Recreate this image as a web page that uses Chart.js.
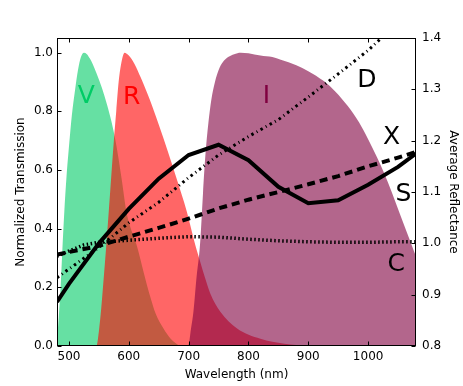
<!DOCTYPE html>
<html>
<head>
<meta charset="utf-8">
<script src="https://cdn.jsdelivr.net/npm/chart.js@4/dist/chart.umd.min.js"></script>
<style>
  html, body { margin: 0; padding: 0; background: #fff; }
  #c { display: block; }
</style>
</head>
<body>
<canvas id="c" width="463" height="386"></canvas>
<script>
// ---- Data ----
// Filter transmission curves (left axis, normalized)
const vWave  = [480, 483, 486, 489, 492, 496, 500, 505, 510, 515, 520, 525, 530, 535, 540, 546, 555, 564, 571, 579, 588, 596, 605, 613, 625, 635, 645, 658, 670, 685];
const vTrans = [0.02, 0.10, 0.20, 0.33, 0.45, 0.58, 0.68, 0.79, 0.87, 0.94, 0.985, 1.0, 0.995, 0.98, 0.96, 0.93, 0.88, 0.82, 0.765, 0.686, 0.57, 0.458, 0.39, 0.345, 0.25, 0.174, 0.11, 0.06, 0.025, 0.0];

const rWave  = [540, 546, 550, 554, 558, 563, 569, 575, 579, 583, 587, 593, 600, 610, 620, 635, 650, 665, 680, 697, 711, 719, 727, 736, 753, 781, 820, 860, 900];
const rTrans = [0.0, 0.0, 0.05, 0.13, 0.23, 0.36, 0.53, 0.70, 0.80, 0.90, 0.96, 1.0, 0.99, 0.96, 0.915, 0.84, 0.755, 0.665, 0.57, 0.458, 0.345, 0.29, 0.235, 0.18, 0.117, 0.06, 0.025, 0.008, 0.0];

const iWave  = [694, 699, 704, 708, 713, 719, 724, 728, 733, 738, 744, 750, 757, 766, 776, 787, 800, 820, 840, 854, 880, 900, 926, 945, 966, 985, 1000, 1015, 1027, 1040, 1055, 1068, 1080];
const iTrans = [0.0, 0.0, 0.06, 0.117, 0.23, 0.345, 0.52, 0.65, 0.76, 0.84, 0.90, 0.94, 0.967, 0.985, 0.995, 1.0, 0.998, 0.99, 0.985, 0.976, 0.957, 0.937, 0.903, 0.868, 0.818, 0.762, 0.705, 0.643, 0.588, 0.522, 0.44, 0.37, 0.305];

// Reflectance curves (right axis)
const sWave = [480, 500, 550, 600, 650, 700, 750, 800, 850, 900, 950, 1000, 1050, 1080];
const sRefl = [0.886, 0.921, 1.0, 1.067, 1.126, 1.172, 1.192, 1.162, 1.110, 1.078, 1.084, 1.114, 1.149, 1.175];

const xWave = [480, 500, 550, 600, 650, 700, 750, 800, 850, 900, 950, 1000, 1050, 1080];
const xRefl = [0.978, 0.983, 0.995, 1.013, 1.030, 1.048, 1.068, 1.085, 1.100, 1.115, 1.131, 1.150, 1.167, 1.178];

const dWave = [480, 500, 550, 600, 650, 700, 750, 800, 850, 900, 950, 1000, 1050, 1080];
const dRefl = [0.933, 0.950, 0.992, 1.040, 1.080, 1.128, 1.172, 1.208, 1.241, 1.285, 1.330, 1.376, 1.430, 1.460];

const cWave = [480, 500, 525, 550, 600, 650, 700, 750, 800, 850, 900, 950, 1000, 1050, 1080];
const cRefl = [0.975, 0.985, 0.997, 1.002, 1.006, 1.010, 1.013, 1.012, 1.008, 1.005, 1.003, 1.002, 1.002, 1.003, 1.003];

// Tick values
const xTicks  = [500, 600, 700, 800, 900, 1000];
const yTicks  = [0.0, 0.2, 0.4, 0.6, 0.8, 1.0];
const y2Ticks = [0.8, 0.9, 1.0, 1.1, 1.2, 1.3, 1.4];

// Curve names and where their letters sit (data coordinates)
const curveLabels = [
  { text: 'V', x: 529, y: 0.852, axis: 'y',  color: '#00cc66' },
  { text: 'R', x: 605, y: 0.848, axis: 'y',  color: '#ff0000' },
  { text: 'I', x: 830, y: 0.852, axis: 'y',  color: '#800040' },
  { text: 'D', x: 998, y: 1.318, axis: 'y2', color: '#000000' },
  { text: 'X', x: 1039, y: 1.207, axis: 'y2', color: '#000000' },
  { text: 'S', x: 1059, y: 1.096, axis: 'y2', color: '#000000' },
  { text: 'C', x: 1047, y: 0.958, axis: 'y2', color: '#000000' }
];

const pts = (xs, ys) => xs.map((x, i) => ({ x: x, y: ys[i] }));

Chart.defaults.font.family = "'DejaVu Sans', sans-serif";
Chart.defaults.font.size = 12;
Chart.defaults.color = '#000';

const framePlugin = {
  id: 'frame',
  afterDatasetsDraw(chart) {
    const { ctx, chartArea: a, scales } = chart;
    ctx.save();
    curveLabels.forEach(l => {
      ctx.font = "25px 'DejaVu Sans', sans-serif";
      ctx.fillStyle = l.color;
      ctx.textAlign = 'center';
      ctx.textBaseline = 'middle';
      ctx.fillText(l.text, scales.x.getPixelForValue(l.x), scales[l.axis].getPixelForValue(l.y));
    });
    ctx.strokeStyle = '#000';
    ctx.lineWidth = 1;
    const L = Math.round(a.left) + 0.5, R = Math.round(a.right) - 0.5;
    const T = Math.round(a.top) + 0.5, B = Math.round(a.bottom) - 0.5;
    const tl = 4;
    ctx.beginPath();
    xTicks.forEach(v => {
      const px = Math.round(scales.x.getPixelForValue(v)) + 0.5;
      ctx.moveTo(px, B); ctx.lineTo(px, B - tl);
      ctx.moveTo(px, T); ctx.lineTo(px, T + tl);
    });
    yTicks.forEach(v => {
      const py = Math.round(scales.y.getPixelForValue(v)) + 0.5;
      ctx.moveTo(L, py); ctx.lineTo(L + tl, py);
    });
    y2Ticks.forEach(v => {
      const py = Math.round(scales.y2.getPixelForValue(v)) + 0.5;
      ctx.moveTo(R, py); ctx.lineTo(R - tl, py);
    });
    ctx.stroke();
    ctx.strokeRect(L, T, R - L, B - T);
    ctx.restore();
  }
};

const fillDs = (label, xs, ys, color, order) => ({
  label, data: pts(xs, ys), yAxisID: 'y', fill: 'origin', order,
  backgroundColor: color, borderWidth: 0, borderColor: 'rgba(0,0,0,0)',
  pointRadius: 0, cubicInterpolationMode: 'monotone'
});

new Chart(document.getElementById('c'), {
  type: 'line',
  data: {
    datasets: [
      fillDs('V', vWave, vTrans, 'rgba(0,204,102,0.6)', 10),
      fillDs('R', rWave, rTrans, 'rgba(255,0,0,0.6)', 9),
      fillDs('I', iWave, iTrans, 'rgba(128,0,64,0.6)', 8),
      { label: 'C', data: pts(cWave, cRefl), yAxisID: 'y2', fill: false, order: 4,
        borderColor: '#000', borderWidth: 3.5, borderDash: [1.5, 2.5], borderCapStyle: 'butt',
        pointRadius: 0, tension: 0 },
      { label: 'D', data: pts(dWave, dRefl), yAxisID: 'y2', fill: false, order: 3,
        borderColor: '#000', borderWidth: 3, borderDash: [2.5, 3.5, 1, 3.5], borderCapStyle: 'butt',
        pointRadius: 0, tension: 0 },
      { label: 'X', data: pts(xWave, xRefl), yAxisID: 'y2', fill: false, order: 2,
        borderColor: '#000', borderWidth: 4, borderDash: [8, 5], borderCapStyle: 'butt',
        pointRadius: 0, tension: 0 },
      { label: 'S', data: pts(sWave, sRefl), yAxisID: 'y2', fill: false, order: 1,
        borderColor: '#000', borderWidth: 4, borderJoinStyle: 'miter',
        pointRadius: 0, tension: 0 }
    ]
  },
  options: {
    responsive: false,
    animation: false,
    events: [],
    layout: { padding: { top: 38, left: 0, right: 0, bottom: 0 } },
    plugins: { legend: { display: false }, tooltip: { enabled: false } },
    scales: {
      x: {
        type: 'linear', position: 'bottom', min: 480, max: 1080,
        afterBuildTicks: s => { s.ticks = xTicks.map(v => ({ value: v })); },
        ticks: { padding: 4, maxRotation: 0, callback: v => String(v), font: { size: 12 } },
        grid: { display: false, drawTicks: false },
        border: { display: false },
        title: { display: true, text: 'Wavelength (nm)', font: { size: 12 }, padding: { top: 0, bottom: 4 } },
        afterFit: s => { s.height = 40; }
      },
      y: {
        position: 'left', min: 0, max: 1.05,
        afterBuildTicks: s => { s.ticks = yTicks.map(v => ({ value: v })); },
        ticks: { padding: 4, callback: v => Number(v).toFixed(1), font: { size: 12 } },
        grid: { display: false, drawTicks: false },
        border: { display: false },
        title: { display: true, text: 'Normalized Transmission', font: { size: 12 }, padding: { top: 14, bottom: 0 } },
        afterFit: s => { s.width = 57; }
      },
      y2: {
        position: 'right', min: 0.8, max: 1.4,
        afterBuildTicks: s => { s.ticks = y2Ticks.map(v => ({ value: v })); },
        ticks: { padding: 6, callback: v => Number(v).toFixed(1), font: { size: 12 } },
        grid: { display: false, drawTicks: false },
        border: { display: false },
        title: { display: true, text: 'Average Reflectance', font: { size: 12 }, padding: { top: 3, bottom: 0 } },
        afterFit: s => { s.width = 47; }
      }
    }
  },
  plugins: [framePlugin]
});
</script>
</body>
</html>
